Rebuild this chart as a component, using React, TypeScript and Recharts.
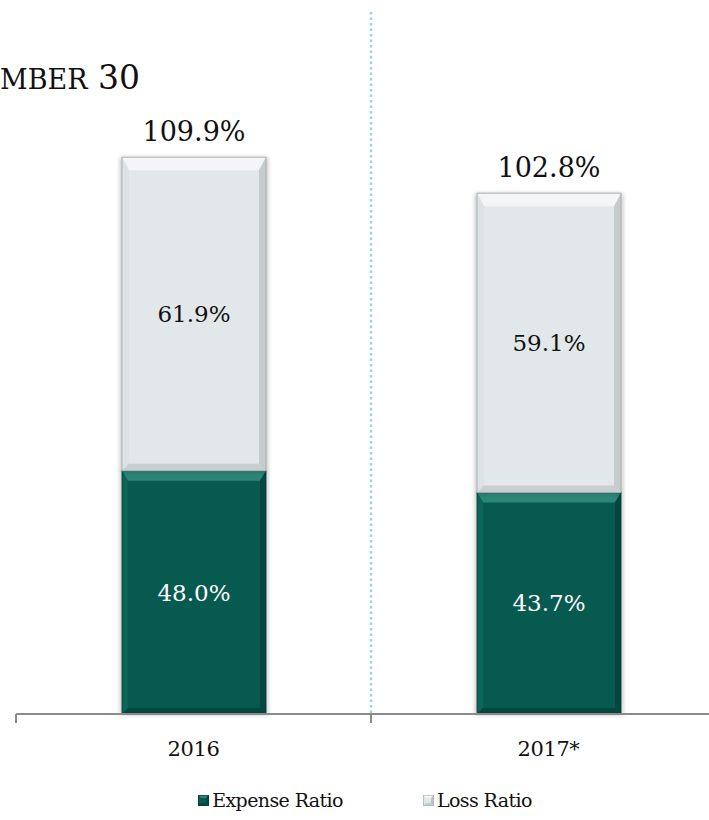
import React from 'react';
import { BarChart, Bar, XAxis, YAxis, LabelList, Legend } from 'recharts';

const categories = ['2016', '2017*'];
const expenseRatio = [48.0, 43.7];
const lossRatio = [61.9, 59.1];
const seriesNames = ['Expense Ratio', 'Loss Ratio'];
const titleText = ['MBER', '30'];

const GREEN = '#075A50';
const GREY = '#E2E7E9';
const FONT = '"DejaVu Serif", "Liberation Serif", serif';

const data = categories.map((c, i) => ({
  year: c,
  expense: expenseRatio[i],
  loss: lossRatio[i],
  total: Math.round((expenseRatio[i] + lossRatio[i]) * 10) / 10,
}));

const pct = (v: any) => `${Number(v).toFixed(1)}%`;

function BevelBar(props: any) {
  const { x, y, width: w, height: h, fill } = props;
  if (!w || !h) return null;
  const green = fill === GREEN;
  const b = green ? 10 : 13;
  const s = green ? 6 : 7;
  const c = green
    ? { top: '#2C8677', left: '#0B6558', right: '#03473E', bottom: '#04463D', edge: '#033A33' }
    : { top: '#F3F5F6', left: '#DDE2E4', right: '#C6CBCD', bottom: '#C9CED0', edge: '#A3A8AA' };
  const fid = green ? 'shGreen' : 'shGrey';
  return (
    <g>
      <defs>
        <filter id={fid} x="-20%" y="-10%" width="140%" height="120%">
          <feGaussianBlur stdDeviation="2" />
        </filter>
      </defs>
      <rect x={x - 2} y={y} width={w + 4} height={h + 1} fill="#000" opacity={0.22} filter={`url(#${fid})`} />
      <rect x={x} y={y} width={w} height={h} fill={fill} />
      <polygon points={`${x},${y} ${x + w},${y} ${x + w - s},${y + b} ${x + s},${y + b}`} fill={c.top} />
      <polygon points={`${x},${y} ${x + s},${y + b} ${x + s},${y + h - s} ${x},${y + h}`} fill={c.left} />
      <polygon points={`${x + w},${y} ${x + w - s},${y + b} ${x + w - s},${y + h - s} ${x + w},${y + h}`} fill={c.right} />
      <polygon points={`${x},${y + h} ${x + s},${y + h - s} ${x + w - s},${y + h - s} ${x + w},${y + h}`} fill={c.bottom} />
      <rect x={x} y={y} width={w} height={h} fill="none" stroke={c.edge} strokeWidth={0.8} />
    </g>
  );
}

function AxisTick(props: any) {
  const { x, y, payload, index } = props;
  const off = payload && payload.offset ? payload.offset : 177.5;
  const bx = x - off;
  return (
    <g>
      <line x1={bx} y1={y} x2={bx} y2={y + 9} stroke="#8A8A8A" strokeWidth={2} />
      {index > 0 && (
        <line x1={bx} y1={y - 1} x2={bx} y2={10} stroke="#9ED3E1" strokeWidth={2.5} strokeDasharray="2.5 3" />
      )}
      <text x={x} y={y + 42} textAnchor="middle" fontFamily={FONT} fontSize={21} letterSpacing={-0.4} fill="#111">
        {payload.value}
      </text>
    </g>
  );
}

function LegendIcon({ color }: { color: string }) {
  const green = color === GREEN;
  return (
    <svg width={11} height={11} style={{ marginRight: 3 }}>
      <rect x={0} y={0} width={11} height={11} fill={color} />
      <polygon points="0,0 11,0 8,3 3,3" fill={green ? '#2C8677' : '#F5F6F7'} />
      <polygon points="11,0 11,11 8,8 8,3" fill={green ? '#03473E' : '#BFC4C6'} />
      <polygon points="0,11 11,11 8,8 3,8" fill={green ? '#03473E' : '#C6CBCD'} />
      <rect x={0.3} y={0.3} width={10.4} height={10.4} fill="none" stroke={green ? '#033A33' : '#A3A8AA'} strokeWidth={0.6} />
    </svg>
  );
}

function LegendContent() {
  const colors = [GREEN, GREY];
  return (
    <div style={{ display: 'flex', justifyContent: 'center', alignItems: 'center', fontFamily: FONT, fontSize: 19, letterSpacing: -0.6, color: '#111', height: 40 }}>
      {seriesNames.map((n, i) => (
        <div key={n} style={{ display: 'flex', alignItems: 'center', marginRight: i === 0 ? 80 : 0 }}>
          <LegendIcon color={colors[i]} />
          <span>{n}</span>
        </div>
      ))}
    </div>
  );
}

export default function App() {
  return (
    <div style={{ position: 'absolute', left: 0, top: 0, width: 709, height: 820, overflow: 'hidden', background: '#fff' }}>
      <BarChart
        width={760}
        height={820}
        data={data}
        margin={{ top: 106, left: 16, right: 34, bottom: 0 }}
        barCategoryGap={0}
      >
        <text x={0} y={89} fontFamily={FONT} fill="#111">
          <tspan fontSize={27}>{titleText[0]}</tspan>
          <tspan fontSize={33}>{' ' + titleText[1]}</tspan>
        </text>
        <YAxis hide domain={[0, 120]} />
        <XAxis
          dataKey="year"
          height={66}
          tickSize={0}
          tickMargin={0}
          tickLine={false}
          axisLine={{ stroke: '#8A8A8A', strokeWidth: 2 }}
          tick={<AxisTick />}
          interval={0}
        />
        <Legend verticalAlign="bottom" height={40} content={<LegendContent />} wrapperStyle={{ left: 0, width: 730 }} />
        <Bar dataKey="expense" stackId="a" fill={GREEN} barSize={144} shape={<BevelBar />} isAnimationActive={false}>
          <LabelList dataKey="expense" position="center" fill="#FFFFFF" fontFamily={FONT} fontSize={23} formatter={pct} />
        </Bar>
        <Bar dataKey="loss" stackId="a" fill={GREY} barSize={144} shape={<BevelBar />} isAnimationActive={false}>
          <LabelList dataKey="loss" position="center" fill="#111" fontFamily={FONT} fontSize={23} formatter={pct} />
          <LabelList dataKey="total" position="top" offset={16} fill="#111" fontFamily={FONT} fontSize={27} formatter={pct} />
        </Bar>
      </BarChart>
    </div>
  );
}
